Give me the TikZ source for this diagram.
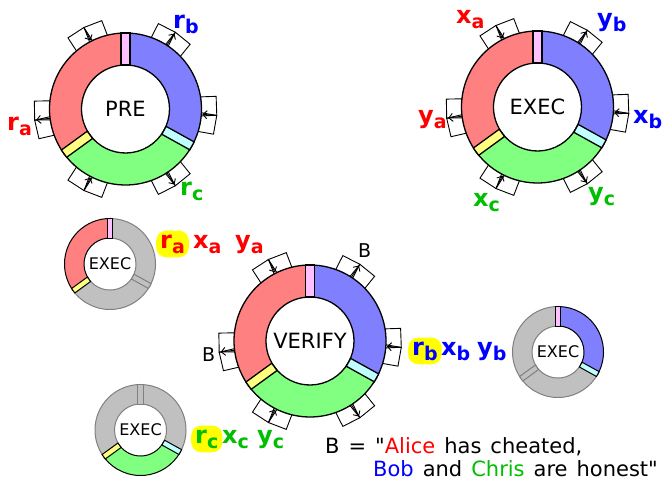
\documentclass[tikz,border=0pt]{standalone}
\usepackage{fontspec}
\setmainfont{DejaVu Sans}[Ligatures=TeXOff]
\usetikzlibrary{arrows.meta}

\definecolor{segred}{RGB}{255,128,128}
\definecolor{segblue}{RGB}{128,128,255}
\definecolor{seggreen}{RGB}{128,255,128}
\definecolor{barpink}{RGB}{255,192,255}
\definecolor{barcyan}{RGB}{192,255,255}
\definecolor{baryellow}{RGB}{255,255,128}
\definecolor{greyfill}{RGB}{192,192,192}
\definecolor{greyline}{RGB}{128,128,128}
\definecolor{labred}{RGB}{255,0,0}
\definecolor{labblue}{RGB}{0,0,255}
\definecolor{labgreen}{RGB}{0,190,0}
\definecolor{marker}{RGB}{255,255,0}

\tikzset{
  bigseg/.style={draw=black,line width=1.3pt},
  smallseg/.style={draw=black,line width=1pt},
  greyseg/.style={draw=greyline,fill=greyfill,line width=1pt},
  portline/.style={draw=black,line width=0.9pt},
  ringtext/.style={font=\fontsize{21}{21}\selectfont,inner sep=0pt},
  smalltext/.style={font=\fontsize{16}{16}\selectfont,inner sep=0pt},
  lbl/.style={font=\fontsize{24}{24}\selectfont\bfseries,inner sep=0pt,anchor=base west},
  hl/.style={fill=marker,rounded corners=10pt,inner sep=4pt},
  blabel/.style={font=\fontsize{19}{19}\selectfont,inner sep=0pt,anchor=base west},
  note/.style={font=\fontsize{21}{21}\selectfont,inner sep=0pt,anchor=base west},
}

% annular sector: style, start angle, end angle, inner radius, outer radius
\newcommand\annulus[5]{%
  \path[#1] (#2:#5) arc[start angle=#2,end angle=#3,radius=#5]
    -- (#3:#4) arc[start angle=#3,end angle=#2,radius=#4] -- cycle;}
% straight separator bar: style, angle, inner radius, outer radius, width
\newcommand\ringbar[5]{%
  \path[#1,rotate=#2] ({#3},{-(#5)/2}) rectangle ({#4},{(#5)/2});}
% port boxes on the rim: angle, rim radius
\newcommand\portbox[2]{%
  \draw[portline,rotate=#1+6] ({#2-6},-9.5) rectangle ({#2+15},9.5);
  \draw[portline,rotate=#1-6] ({#2-6},-9.5) rectangle ({#2+15},9.5);}
\newcommand\portin[2]{\portbox{#1}{#2}%
  \draw[portline,-{Straight Barb[length=4pt,width=8pt]}] (#1:{#2+15}) -- (#1:{#2+1});}
\newcommand\portout[2]{\portbox{#1}{#2}%
  \draw[portline,-{Straight Barb[length=4pt,width=8pt]}] (#1:{#2}) -- (#1:{#2+14});}
% full coloured ring with its six ports
\newcommand\bigring{%
  \portin{117}{76}\portout{187}{76}\portout{57}{76}%
  \portin{-4}{76}\portin{243}{76}\portout{-57}{76}%
  \annulus{bigseg,fill=segred}{90}{216}{44}{76}%
  \annulus{bigseg,fill=segblue}{-29}{90}{44}{76}%
  \annulus{bigseg,fill=seggreen}{216}{331}{44}{76}%
  \ringbar{bigseg,fill=barpink}{90}{44}{76}{9}%
  \ringbar{bigseg,fill=barcyan}{-29}{44}{76}{9}%
  \ringbar{bigseg,fill=baryellow}{216}{44}{76}{9}}
% subscripted label
\newcommand\lab[2]{#1\raisebox{-5pt}{\fontsize{19}{19}\selectfont #2}}
% straight double quote and widened word spaces for the note
\newcommand\dq{\char34\relax}
\newcommand\widesp{\spaceskip=9pt\relax}

\begin{document}
\begin{tikzpicture}[x=1pt,y=1pt]
\useasboundingbox (0,0) rectangle (666,-480);
\fill[white] (0,0) rectangle (666,-480);

% ---- PRE ----
\begin{scope}[shift={(125.5,-109)}]
  \bigring
  \node[ringtext] (pre) at (0,0) {PRE};
\end{scope}
\node[lbl,text=labred] (pra) at (7,-130) {\lab{r}{a}};
\node[lbl,text=labblue] (prb) at (173,-28) {\lab{r}{b}};
\node[lbl,text=labgreen] (prc) at (180,-195) {\lab{r}{c}};

% ---- EXEC ----
\begin{scope}[shift={(537.5,-107)}]
  \bigring
  \node[ringtext] (exec) at (0,0) {EXEC};
\end{scope}
\node[lbl,text=labred] (exa) at (456,-23) {\lab{x}{a}};
\node[lbl,text=labred] (eya) at (418,-123) {\lab{y}{a}};
\node[lbl,text=labblue] (eyb) at (597,-26) {\lab{y}{b}};
\node[lbl,text=labblue] (exb) at (633,-123) {\lab{x}{b}};
\node[lbl,text=labgreen] (exc) at (473,-206) {\lab{x}{c}};
\node[lbl,text=labgreen] (eyc) at (588,-200) {\lab{y}{c}};

% ---- VERIFY ----
\begin{scope}[shift={(310,-341)}]
  \bigring
  \node[ringtext] (verify) at (0,0) {VERIFY};
\end{scope}
\node[blabel] (btop) at (358,-257) {B};
\node[blabel] (bleft) at (202,-361) {B};

% ---- Alice's view of EXEC ----
\begin{scope}[shift={(110,-264)}]
  \annulus{greyseg}{-29}{90}{26}{45.5}
  \annulus{greyseg}{216}{331}{26}{45.5}
  \ringbar{greyseg}{-29}{26}{45.5}{5.5}
  \annulus{smallseg,fill=segred}{90}{216}{26}{45.5}
  \ringbar{smallseg,fill=barpink}{90}{26}{45.5}{5.5}
  \ringbar{smallseg,fill=baryellow}{216}{26}{45.5}{5.5}
  \node[smalltext] (execa) at (0,0) {EXEC};
\end{scope}
\node[lbl,text=labred,hl] (rahl) at (156,-248) {\lab{r}{a}};
\node[lbl,text=labred] (xa) at (193,-248) {\lab{x}{a}};
\node[lbl,text=labred] (ya) at (235,-248) {\lab{y}{a}};

% ---- Bob's view of EXEC ----
\begin{scope}[shift={(558,-352)}]
  \annulus{greyseg}{90}{216}{26}{45.5}
  \annulus{greyseg}{216}{331}{26}{45.5}
  \ringbar{greyseg}{216}{26}{45.5}{5.5}
  \annulus{smallseg,fill=segblue}{-29}{90}{26}{45.5}
  \ringbar{smallseg,fill=barpink}{90}{26}{45.5}{5.5}
  \ringbar{smallseg,fill=barcyan}{-29}{26}{45.5}{5.5}
  \node[smalltext] (execb) at (0,0) {EXEC};
\end{scope}
\node[lbl,text=labblue,hl] (rbhl) at (408,-355) {\lab{r}{b}};
\node[lbl,text=labblue] (xb) at (441,-355) {\lab{x}{b}};
\node[lbl,text=labblue] (yb) at (477,-355) {\lab{y}{b}};

% ---- Chris's view of EXEC ----
\begin{scope}[shift={(140.5,-430)}]
  \annulus{greyseg}{90}{216}{26}{45.5}
  \annulus{greyseg}{-29}{90}{26}{45.5}
  \ringbar{greyseg}{90}{26}{45.5}{5.5}
  \annulus{smallseg,fill=seggreen}{216}{331}{26}{45.5}
  \ringbar{smallseg,fill=baryellow}{216}{26}{45.5}{5.5}
  \ringbar{smallseg,fill=barcyan}{-29}{26}{45.5}{5.5}
  \node[smalltext] (execc) at (0,0) {EXEC};
\end{scope}
\node[lbl,text=labgreen,hl] (rchl) at (191,-443) {\lab{r}{c}};
\node[lbl,text=labgreen] (xc) at (222,-443) {\lab{x}{c}};
\node[lbl,text=labgreen] (yc) at (257,-443) {\lab{y}{c}};

% ---- meaning of B ----
\node[note] (bline1) at (325,-453) {\widesp B = \dq\textcolor{labred}{Alice} has cheated,};
\node[note] (bline2) at (373,-476) {\widesp\textcolor{labblue}{Bob} and \textcolor{labgreen}{Chris} are honest\dq};
\end{tikzpicture}
\end{document}
